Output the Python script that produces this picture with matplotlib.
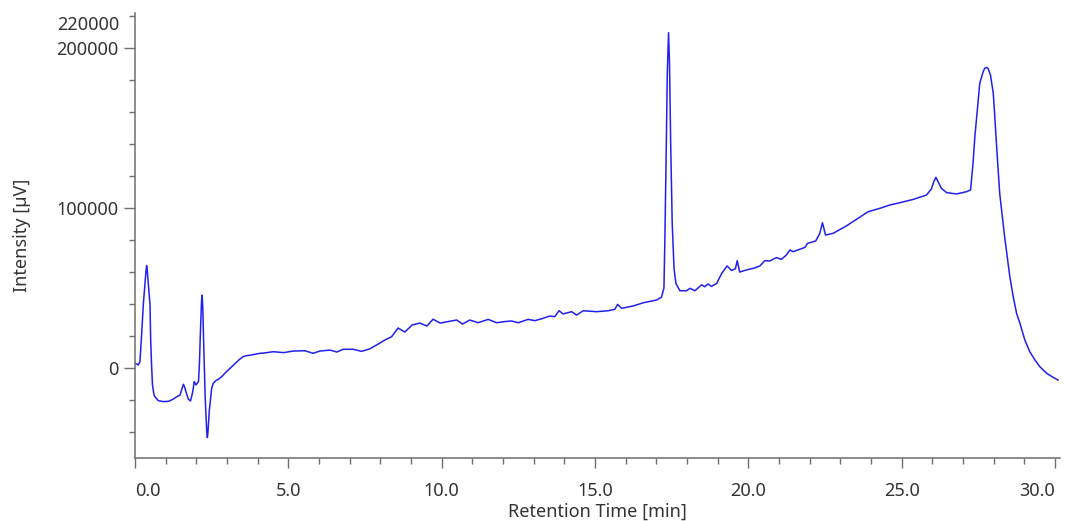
import matplotlib
matplotlib.use("Agg")
import matplotlib.pyplot as plt
from matplotlib.ticker import FixedLocator, MultipleLocator

# Retention time [min]
time_min = [0.00, 0.11, 0.16, 0.22, 0.27, 0.33, 0.36, 0.38, 0.40, 0.43, 0.49, 0.51, 0.54, 0.57,
            0.62, 0.65, 0.76, 0.92, 1.10, 1.25, 1.40, 1.47, 1.53, 1.58, 1.62, 1.66, 1.74, 1.81,
            1.87, 1.90, 1.93, 1.99, 2.07, 2.10, 2.13, 2.17, 2.19, 2.21, 2.25, 2.29, 2.34, 2.36,
            2.38, 2.42, 2.50, 2.55, 2.66, 2.72, 2.83, 2.93, 3.10, 3.21, 3.42, 3.53, 3.64, 3.75,
            4.08, 4.18, 4.51, 4.84, 5.16, 5.54, 5.81, 6.03, 6.36, 6.58, 6.79, 7.12, 7.39, 7.66,
            7.88, 8.15, 8.37, 8.58, 8.80, 9.04, 9.29, 9.52, 9.72, 9.95, 10.20, 10.49, 10.68,
            10.92, 11.19, 11.52, 11.79, 12.05, 12.28, 12.50, 12.82, 13.04, 13.30, 13.53, 13.69,
            13.83, 13.96, 14.24, 14.40, 14.62, 15.05, 15.43, 15.65, 15.74, 15.87, 16.25, 16.58,
            17.01, 17.17, 17.25, 17.28, 17.32, 17.36, 17.40, 17.43, 17.47, 17.52, 17.58, 17.64,
            17.77, 17.99, 18.10, 18.26, 18.48, 18.58, 18.69, 18.80, 18.97, 19.13, 19.31, 19.45,
            19.58, 19.64, 19.72, 19.94, 20.20, 20.38, 20.54, 20.70, 20.92, 21.08, 21.24, 21.36,
            21.46, 21.85, 21.93, 22.20, 22.33, 22.42, 22.52, 22.77, 23.20, 23.53, 23.91, 24.29,
            24.62, 24.94, 25.38, 25.59, 25.81, 25.97, 26.05, 26.12, 26.20, 26.30, 26.47, 26.79,
            27.12, 27.25, 27.33, 27.39, 27.50, 27.55, 27.66, 27.71, 27.77, 27.82, 27.90, 27.99,
            28.04, 28.10, 28.20, 28.31, 28.36, 28.53, 28.64, 28.75, 28.86, 29.02, 29.18, 29.35,
            29.51, 29.73, 29.94, 30.10]

# Intensity [uV]
intensity_uv = [3000, 1900, 4000, 22000, 39400, 54000, 61000, 64000, 61000, 54000, 39400, 18500, 1900, -10600,
                -16900, -17900, -20400, -21000, -20800, -19400, -17500, -16900, -13000, -10200, -12000, -14800, -19500, -20600,
                -16000, -12700, -8500, -10600, -8500, 2000, 20600, 42000, 45600, 38000, 8100, -19000, -40000, -43500,
                -40000, -27300, -12700, -9600, -7500, -7100, -5400, -3300, -200, 1900, 5600, 7100, 7700, 8000,
                9200, 9300, 10200, 9600, 10600, 10800, 9200, 10600, 11200, 10000, 11700, 11700, 10400, 12000,
                14400, 17500, 19600, 25000, 22500, 26900, 28100, 26200, 30500, 28100, 29000, 30000, 27500,
                30000, 28300, 30400, 28300, 29000, 29400, 28300, 30400, 29600, 31000, 32500, 32100,
                35800, 33800, 35200, 33100, 35800, 35200, 35800, 36700, 39800, 37300, 38800, 40800,
                42500, 44300, 50000, 80000, 130000, 185000, 209600, 192000, 140000, 90000, 62000, 52900,
                48300, 48300, 49800, 48300, 52000, 50800, 52500, 51000, 52900, 59000, 63800, 61000,
                62000, 67100, 60000, 61300, 62500, 63800, 67100, 66900, 69000, 67900, 70600, 73800,
                72700, 75400, 77900, 79400, 84000, 90800, 83100, 84200, 88800, 92900, 97700, 99800,
                101900, 103300, 105400, 106700, 108100, 111800, 116500, 119200, 116000, 112300, 109600, 108800,
                110200, 111300, 127900, 144600, 167500, 178000, 185200, 187300, 187900, 187300, 183100, 171700,
                157100, 138300, 109200, 90400, 82100, 57100, 44600, 34200, 27900, 17500, 10200, 5000,
                800, -3300, -5800, -7500]

x_major_ticks = [0, 5, 10, 15, 20, 25, 30]
x_tick_labels = ["0.0", "5.0", "10.0", "15.0", "20.0", "25.0", "30.0"]
y_major_ticks = [0, 100000, 200000]
y_tick_labels = ["0", "100000", "200000"]

plt.rcParams['font.family'] = ['Noto Sans', 'DejaVu Sans']
text_color = '#333333'
spine_color = '#6e6e6e'

fig = plt.figure(figsize=(10.65, 5.21), dpi=100)
ax = fig.add_axes([135 / 1065, 1 - 458 / 521, (1059.5 - 135) / 1065, (458 - 13) / 521])

ax.plot(time_min, intensity_uv, color='#2020f0', lw=1.1, solid_joinstyle='round')

ax.set_xlim(0, 30.15)
ax.set_ylim(-56250, 221900)

for side in ('top', 'right'):
    ax.spines[side].set_visible(False)
for side in ('left', 'bottom'):
    ax.spines[side].set_color(spine_color)
    ax.spines[side].set_linewidth(1.1)

ax.xaxis.set_major_locator(FixedLocator(x_major_ticks))
ax.xaxis.set_minor_locator(MultipleLocator(1))
ax.set_xticklabels(x_tick_labels)
ax.yaxis.set_major_locator(FixedLocator(y_major_ticks))
ax.yaxis.set_minor_locator(MultipleLocator(20000))
ax.set_yticklabels(y_tick_labels)

ax.tick_params(axis='x', which='major', length=7.5, width=1.0, color=spine_color,
               labelsize=13, labelcolor=text_color, pad=10)
ax.tick_params(axis='x', which='minor', length=4.2, width=1.0, color=spine_color)
ax.tick_params(axis='y', which='major', length=8, width=1.0, color=spine_color,
               labelsize=13, labelcolor=text_color, pad=4)
ax.tick_params(axis='y', which='minor', length=4.5, width=1.0, color=spine_color)

xl = ax.get_xticklabels()
xl[0].set_ha('left')
xl[-1].set_ha('right')

ax.annotate('220000', xy=(0, 220000), xycoords=('axes fraction', 'data'),
            xytext=(-16, -9), textcoords='offset pixels', ha='right', va='center',
            fontsize=13, color=text_color)

ax.set_xlabel('Retention Time [min]', fontsize=13, color=text_color, labelpad=2)
ax.set_ylabel('Intensity [µV]', fontsize=13, color=text_color, labelpad=18)

fig.savefig('out.png', dpi=100)
